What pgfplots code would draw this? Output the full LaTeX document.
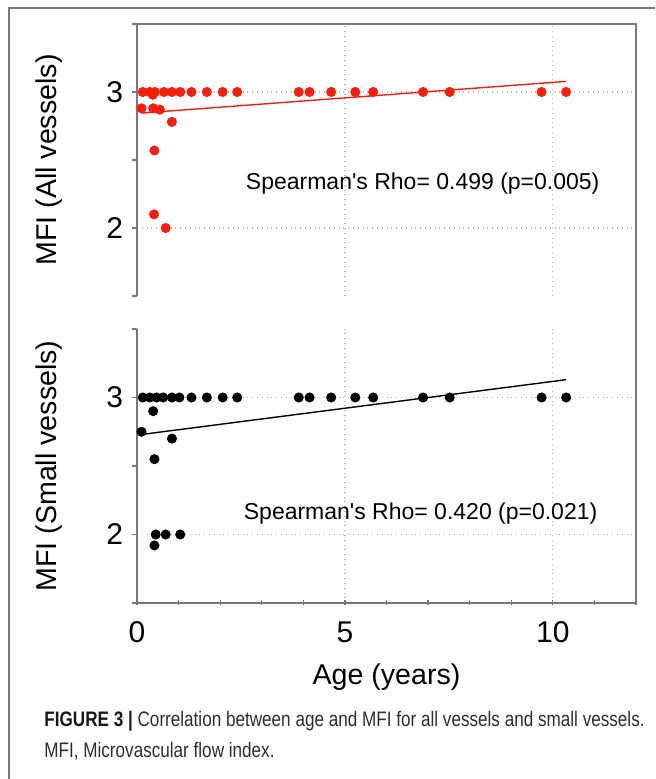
\documentclass[border=0pt]{standalone}
\usepackage{fontspec}
\setmainfont{Liberation Sans}
\newfontfamily\capfont[FakeStretch=0.815]{Liberation Sans}
\usepackage{pgfplots}
\pgfplotsset{compat=1.18}

\definecolor{dotred}{RGB}{250,30,10}
\definecolor{axisgray}{RGB}{120,120,120}
\definecolor{gridgray}{RGB}{185,185,185}
\definecolor{framegray}{RGB}{120,120,120}
\definecolor{capgray}{RGB}{45,45,45}

\pgfplotsset{
  mfipanel/.style={
    scale only axis,
    width=249.5pt,
    xmin=0, xmax=12,
    ymin=1.5, ymax=3.5,
    ytick={2,3},
    minor ytick={1.5,2.5,3.5},
    axis y line=left,
    tick align=outside,
    major tick length=2.5pt,
    minor tick length=2.5pt,
    tick style={draw=axisgray, line width=0.6pt},
    grid=major,
    major grid style={dotted, draw=gridgray, line width=0.6pt},
    tick label style={font=\fontsize{15}{17}\selectfont},
    yticklabel style={xshift=-1pt},
    xticklabel style={yshift=-4.5pt},
    /pgf/number format/assume math mode=true,
    every axis y label/.style={at={(axis description cs:-0.177,0.5)}, rotate=90, anchor=center, font=\fontsize{14.3}{17}\selectfont},
    clip=false,
  },
}

\begin{document}
\begin{tikzpicture}
\path[use as bounding box] (0,0) rectangle (327.5pt,389.5pt);

% outer frame
\draw[framegray, line width=1pt] (4.5pt,0) -- (4.5pt,385.5pt) -- (327.5pt,385.5pt);

% top panel: all vessels
\begin{axis}[mfipanel,
    at={(68.5pt,241.5pt)}, anchor=south west,
    height=136pt,
    axis x line*=bottom,
    axis line style={-, draw=axisgray, line width=0.6pt},
    x axis line style={draw=none},
    xtick={0,5,10}, xticklabels={},
    xtick style={draw=none},
    ylabel={MFI (All vessels)},
]
\addplot[only marks, mark=*, mark size=2.3pt, color=dotred] coordinates {
  (0.14,3) (0.31,3) (0.38,2.98) (0.43,3) (0.65,3) (0.84,3) (1.04,3)
  (1.31,3) (1.68,3) (2.06,3) (2.41,3) (3.89,3) (4.15,3) (4.67,3)
  (5.25,3) (5.68,3) (6.88,3) (7.52,3) (9.73,3) (10.32,3)
  (0.11,2.88) (0.39,2.88) (0.55,2.87) (0.84,2.78) (0.42,2.57)
  (0.41,2.10) (0.69,2.00)
};
\addplot[dotred, line width=0.7pt] coordinates {(0.11,2.845) (10.32,3.078)};
\node[anchor=base, font=\fontsize{11.5}{13}\selectfont] at (axis cs:6.87,2.285) {Spearman\textquotesingle s Rho= 0.499 (p=0.005)};
\coordinate (TL) at (rel axis cs:0,1);
\coordinate (TR) at (rel axis cs:1,1);
\end{axis}

% bottom panel: small vessels
\begin{axis}[mfipanel,
    at={(68.5pt,88pt)}, anchor=south west,
    height=137pt,
    axis x line=bottom,
    axis line style={-, draw=axisgray, line width=0.6pt},
    x axis line style={-},
    xtick={0,5,10},
    minor xtick={1,2,3,4,6,7,8,9,11,12},
    ylabel={MFI (Small vessels)},
    xlabel={Age (years)},
    every axis x label/.style={at={(axis description cs:0.5,-0.27)}, anchor=center, font=\fontsize{14.3}{17}\selectfont},
]
\addplot[only marks, mark=*, mark size=2.3pt, color=black] coordinates {
  (0.14,3) (0.31,3) (0.47,3) (0.63,3) (0.84,3) (1.02,3)
  (1.31,3) (1.68,3) (2.06,3) (2.41,3) (3.89,3) (4.15,3) (4.67,3)
  (5.25,3) (5.68,3) (6.88,3) (7.52,3) (9.73,3) (10.32,3)
  (0.39,2.90) (0.11,2.75) (0.84,2.70) (0.42,2.55)
  (0.45,2.00) (0.69,2.00) (1.04,2.00) (0.42,1.92)
};
\addplot[black, line width=0.7pt] coordinates {(0.11,2.73) (10.32,3.13)};
\node[anchor=base, font=\fontsize{11.5}{13}\selectfont] at (axis cs:6.82,2.108) {Spearman\textquotesingle s Rho= 0.420 (p=0.021)};
\coordinate (BR) at (rel axis cs:1,0);
\end{axis}

% panel frame: top and right
\draw[axisgray, line width=0.6pt] (TL) -- (TR) -- (BR);

% caption
\node[anchor=base west, inner sep=0pt, text=capgray, font=\capfont\fontsize{10.5}{12}\selectfont] at (22pt,26pt)
  {{\bfseries\color{black!90}FIGURE 3 |} Correlation between age and MFI for all vessels and small vessels.};
\node[anchor=base west, inner sep=0pt, text=capgray, font=\capfont\fontsize{10.5}{12}\selectfont] at (22pt,10.5pt)
  {MFI, Microvascular flow index.};
\end{tikzpicture}
\end{document}
